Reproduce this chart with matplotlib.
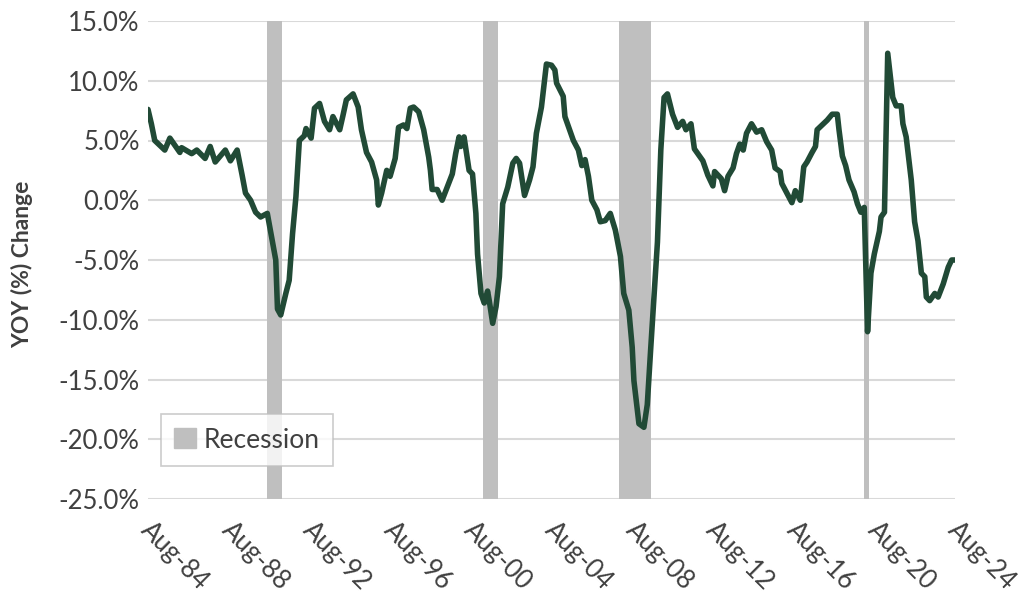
import matplotlib.pyplot as plt
import matplotlib.dates as mdates
import matplotlib.transforms as mtransforms
from matplotlib.patches import Patch
import numpy as np

# months since Aug-1984 and YoY % change
months = [0, 2, 4, 7, 10, 13, 19, 20, 26, 29, 34, 37, 40, 46, 49, 53, 56, 58, 61, 64,
          67, 71, 76, 77, 79, 82, 84, 86, 88, 90, 93, 94, 97, 99, 102, 105, 108, 110, 114, 116,
          118, 122, 125, 127, 130, 133, 136, 137, 139, 142, 144, 147, 149, 152, 154, 156, 158, 161, 164, 167,
          168, 169, 172, 175, 178, 181, 183, 185, 186, 188, 191, 193, 195, 196, 198, 200, 202, 203, 205, 207,
          209, 211, 214, 217, 219, 221, 224, 227, 229, 231, 234, 237, 240, 242, 243, 247, 248, 250, 253, 256,
          258, 260, 262, 264, 267, 269, 272, 275, 278, 281, 283, 286, 288, 289, 292, 295, 297, 299, 301, 303,
          305, 307, 309, 312, 315, 318, 320, 323, 325, 328, 330, 333, 336, 337, 341, 343, 345, 348, 350, 352,
          354, 356, 359, 362, 365, 368, 371, 373, 376, 377, 380, 383, 385, 388, 390, 392, 395, 397, 398, 401,
          404, 407, 410, 411, 413, 415, 417, 420, 422, 424, 426, 427, 428, 430, 432, 435, 436, 438, 440, 443,
          445, 448, 449, 451, 454, 456, 458, 460, 462, 463, 465, 468, 470, 473, 476, 478, 480]
yoy = [7.6, 6.4, 5.0, 4.6, 4.2, 5.2, 4.0, 4.4, 3.9, 4.2, 3.5, 4.5, 3.2, 4.2, 3.3, 4.2, 2.1, 0.6, 0.0, -1.0,
       -1.4, -1.1, -5.0, -9.1, -9.6, -7.8, -6.7, -2.8, 0.3, 5.0, 5.4, 6.0, 5.2, 7.7, 8.1, 6.6, 5.9, 7.0, 5.9, 7.1,
       8.4, 8.9, 7.8, 5.9, 4.0, 3.2, 1.7, -0.4, 0.6, 2.5, 2.0, 3.5, 6.1, 6.3, 6.0, 7.7, 7.8, 7.4, 5.9, 3.6,
       2.5, 0.9, 0.9, 0.0, 1.1, 2.2, 3.9, 5.3, 4.5, 5.3, 2.5, 2.2, -1.1, -4.5, -7.8, -8.6, -7.6, -8.4, -10.3, -8.9,
       -6.4, -0.3, 1.1, 3.1, 3.5, 3.1, 0.4, 1.7, 2.8, 5.6, 7.8, 11.4, 11.3, 10.9, 9.8, 8.7, 7.0, 6.2, 5.0, 4.2,
       2.9, 3.4, 2.0, 0.0, -0.8, -1.8, -1.7, -1.1, -2.5, -4.7, -7.8, -9.2, -12.3, -15.1, -18.7, -19.0, -17.1, -12.5, -8.0, -3.5,
       4.2, 8.6, 8.9, 7.2, 6.1, 6.6, 5.9, 6.4, 4.3, 3.7, 3.3, 2.1, 1.2, 2.4, 1.8, 0.8, 2.0, 2.7, 3.9, 4.7,
       4.2, 5.6, 6.4, 5.7, 5.9, 4.9, 4.2, 2.7, 2.4, 1.4, 0.6, -0.2, 0.8, 0.0, 2.8, 3.2, 4.0, 4.5, 5.9, 6.3,
       6.7, 7.2, 7.2, 5.9, 3.7, 2.9, 1.7, 0.7, -0.3, -1.0, -0.6, -5.8, -11.0, -6.1, -4.5, -2.6, -1.4, -1.0, 12.3, 8.6,
       7.9, 7.9, 6.4, 5.3, 1.7, -1.8, -3.4, -6.1, -6.4, -8.1, -8.4, -7.8, -8.1, -7.0, -5.6, -5.0, -5.0]

# recession periods (first month, month after last)
rec_start = ['1990-07', '2001-03', '2007-12', '2020-02']
rec_end = ['1991-04', '2001-12', '2009-07', '2020-05']

tick_years = list(range(1984, 2025, 4))

dates = np.datetime64('1984-08', 'M') + np.array(months)
dates = dates.astype('datetime64[D]')

plt.rcParams['font.family'] = ['Lato', 'DejaVu Sans']
txt_col = '#404040'

fig = plt.figure(figsize=(10.23, 5.98), dpi=100)
ax = fig.add_axes([148 / 1023, 1 - 499 / 598, 807 / 1023, 478 / 598])

for s, e in zip(rec_start, rec_end):
    ax.axvspan(np.datetime64(s + '-01'), np.datetime64(e + '-01'), color='#bfbfbf', lw=0, zorder=1)

ax.plot(dates, yoy, color='#214a36', lw=4, solid_joinstyle='round', solid_capstyle='round', zorder=3)

ax.set_ylim(-25, 15)
ax.set_yticks(np.arange(-25, 16, 5))
ax.yaxis.set_major_formatter(plt.FuncFormatter(lambda v, p: f'{v:.1f}%'))
ax.set_xlim(np.datetime64('1984-08-01'), np.datetime64('2024-08-01'))
ax.set_xticks([np.datetime64(f'{y}-08-01') for y in tick_years])
ax.xaxis.set_major_formatter(mdates.DateFormatter('%b-%y'))

ax.grid(axis='y', color='#d9d9d9', lw=1.5, zorder=0)
ax.set_axisbelow(True)
for sp in ax.spines.values():
    sp.set_visible(False)
ax.tick_params(length=0, labelsize=18.5, colors=txt_col)
ax.tick_params(axis='y', pad=6)
ax.tick_params(axis='x', pad=13)
shift = mtransforms.ScaledTranslation(6 / 100, 0, fig.dpi_scale_trans)
for lab in ax.get_xticklabels():
    lab.set_rotation(-45)
    lab.set_ha('left')
    lab.set_va('top')
    lab.set_rotation_mode('anchor')
    lab.set_transform(lab.get_transform() + shift)

ax.set_ylabel('YOY (%) Change', fontsize=16.5, fontweight='bold', color=txt_col)
ax.yaxis.set_label_coords(-0.142, 0.49)

leg = ax.legend(handles=[Patch(color='#bfbfbf', label='Recession')], loc='lower left',
                bbox_to_anchor=(0.0, 0.042), fontsize=19, frameon=True, fancybox=False,
                handlelength=0.8, handleheight=0.8, handletextpad=0.3, borderpad=0.5,
                labelcolor=txt_col)
leg.get_frame().set_edgecolor('#bfbfbf')
leg.get_frame().set_linewidth(1.2)

fig.savefig('out.png', dpi=100)
